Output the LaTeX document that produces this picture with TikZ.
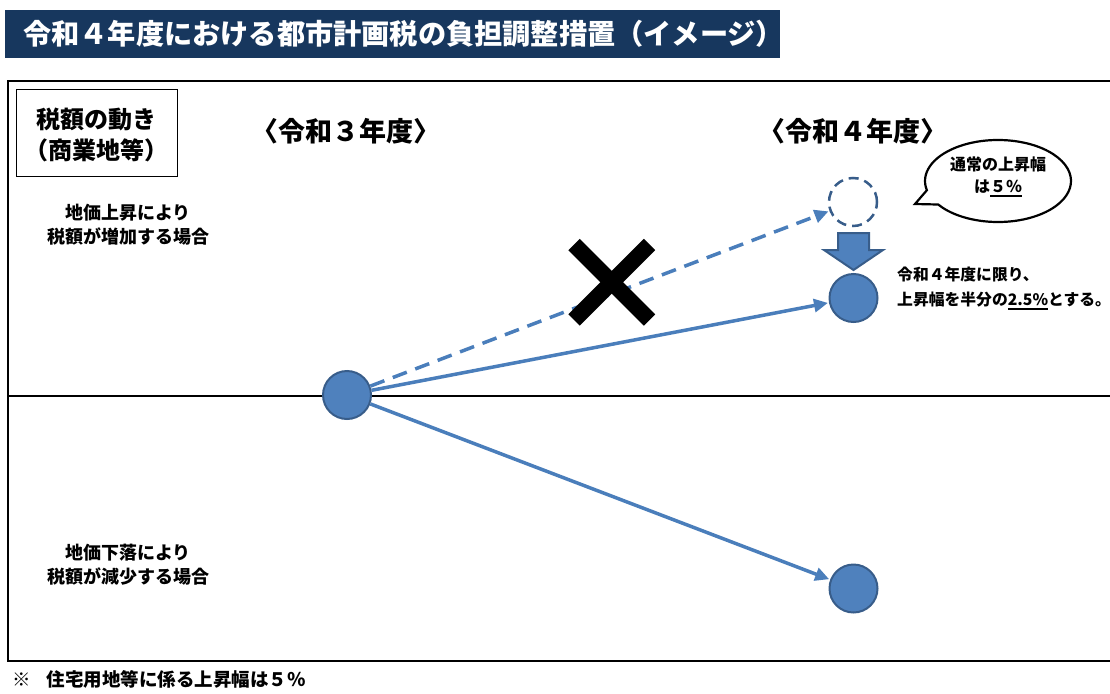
\documentclass[tikz,border=0pt]{standalone}
\usepackage{fontspec}
\setmainfont{Noto Sans CJK JP}
\usetikzlibrary{arrows.meta,calc}
\definecolor{titlebg}{HTML}{17375E}
\definecolor{cfill}{HTML}{4F81BD}
\definecolor{cborder}{HTML}{385D8A}
\definecolor{lineblue}{HTML}{4A7EBB}
\newcommand{\myul}[1]{\setbox0\hbox{#1}\rlap{\rule[-0.24em]{\wd0}{0.1em}}\box0}
\tikzset{
  txt/.style={inner sep=0pt, font=\bfseries, align=center},
  dot/.style={circle, minimum size=48pt, inner sep=0pt, line width=2pt, draw=cborder, fill=cfill},
  ghost/.style={circle, minimum size=48pt, inner sep=0pt, line width=2.5pt, draw=cborder, dash pattern=on 10pt off 6pt},
  arr/.style={draw=lineblue, line width=3.5pt, -{Triangle[length=14pt,width=13pt]}, shorten >=1pt},
  darr/.style={arr, dash pattern=on 15pt off 9pt},
}
\begin{document}
\begin{tikzpicture}[x=1pt,y=-1pt]
\useasboundingbox (0,0) rectangle (1110,693);
% title
\fill[titlebg] (5,10) rectangle (780,58);
\node[txt, anchor=west, text=white, font=\bfseries\fontsize{28.2}{30}\selectfont] (title) at (23,34) {令和４年度における都市計画税の負担調整措置（イメージ）};
% frame
\draw[line width=2pt] (1110,81) -- (8,81) -- (8,661) -- (1110,661);
\draw[line width=1.5pt] (8,396) -- (1110,396);
% label box
\draw[line width=1pt] (16,89) rectangle (177,176);
\node[txt, font=\bfseries\fontsize{24}{31}\selectfont] (box) at (96.5,135) {税額の動き\\（商業地等）};
% headings
\node[txt, font=\bfseries\fontsize{27}{28}\selectfont] (h3) at (346,131) {〈令和３年度〉};
\node[txt, font=\bfseries\fontsize{27}{28}\selectfont] (h4) at (853,131) {〈令和４年度〉};
% side labels
\node[txt, font=\bfseries\fontsize{18}{24}\selectfont] (up) at (128,225) {地価上昇により\\税額が増加する場合};
\node[txt, font=\bfseries\fontsize{18}{24}\selectfont] (down) at (128,565) {地価下落により\\税額が減少する場合};
% circles
\node[dot] (s) at (347,395) {};
\node[ghost] (d) at (853,202) {};
\node[dot] (u) at (853.5,298) {};
\node[dot] (l) at (853.5,588.5) {};
% connectors
\draw[darr] (s) -- (d);
\draw[arr] (s) -- (u);
\draw[arr] (s) -- (l);
% big cross
\draw[line width=16pt] (574,244.5) -- (649.5,320);
\draw[line width=16pt] (574,320) -- (649.5,244.5);
% block arrow
\draw[line width=2pt, draw=cborder, fill=cfill, line join=miter]
  (838,233) -- (869,233) -- (869,250) -- (883,250) -- (853.5,270) -- (824,250) -- (838,250) -- cycle;
% speech bubble
\draw[line width=2.2pt, fill=white]
  (915,204) -- ($(998,181)+(215:73pt and 41pt)$)
  arc[start angle=215, end angle=553, x radius=73pt, y radius=41pt] -- cycle;
\node[txt, font=\bfseries\fontsize{16}{22}\selectfont] (bub) at (998,177) {通常の上昇幅\\は\myul{５％}};
% note beside circle
\node[txt, anchor=north west, align=left, font=\bfseries\fontsize{15.8}{25}\selectfont] (note) at (897,267) {令和４年度に限り、\\上昇幅を半分の\myul{2.5\%}とする。};
% footer
\node[txt, anchor=west, font=\bfseries\fontsize{18.5}{20}\selectfont] (foot) at (12,679) {※\hspace{16pt}住宅用地等に係る上昇幅は５％};
\end{tikzpicture}
\end{document}
